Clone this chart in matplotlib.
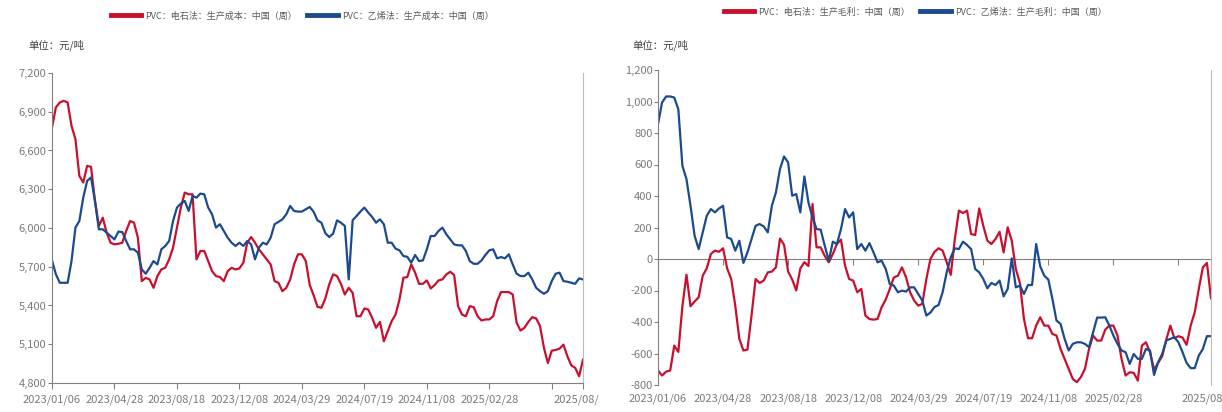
import matplotlib
matplotlib.use("Agg")
import matplotlib.pyplot as plt
import matplotlib.ticker as mticker
import matplotlib.transforms as mtransforms
import pandas as pd

# ── Dados (semanal, 2023/01/06 – 2025/08/08) ────────────────────────────────

datas = pd.date_range("2023-01-06", periods=137, freq="7D")

custo_carbureto = [
    6779, 6934, 6972, 6985, 6972, 6791, 6688, 6404, 6352, 6481,
    6473, 6210, 6016, 6080, 5964, 5886, 5873, 5878, 5886, 5977,
    6054, 6041, 5925, 5589, 5614, 5601, 5537, 5628, 5679, 5692,
    5757, 5848, 6003, 6158, 6274, 6261, 6261, 5757, 5822, 5822,
    5744, 5666, 5628, 5620, 5589, 5666, 5692, 5679, 5687, 5731,
    5886, 5930, 5886, 5835, 5796, 5757, 5718, 5589, 5576, 5511,
    5537, 5601, 5718, 5796, 5796, 5744, 5560, 5480, 5390, 5382,
    5454, 5563, 5641, 5628, 5568, 5485, 5537, 5498, 5317, 5317,
    5377, 5369, 5304, 5227, 5273, 5123, 5201, 5279, 5330, 5447,
    5615, 5620, 5718, 5654, 5568, 5568, 5594, 5532, 5558, 5594,
    5602, 5641, 5661, 5636, 5395, 5330, 5317, 5395, 5387, 5317,
    5284, 5292, 5292, 5317, 5434, 5504, 5504, 5504, 5485, 5266,
    5206, 5227, 5273, 5310, 5300, 5240, 5072, 4955, 5050, 5056,
    5066, 5097, 5007, 4937, 4917, 4852, 4981,
]

custo_etileno = [
    5749, 5641, 5576, 5576, 5576, 5744, 6003, 6054, 6235, 6365,
    6391, 6210, 5990, 5990, 5964, 5938, 5912, 5972, 5969, 5899,
    5835, 5835, 5809, 5679, 5646, 5692, 5744, 5718, 5835, 5861,
    5899, 6054, 6158, 6189, 6210, 6132, 6248, 6235, 6266, 6261,
    6158, 6106, 6003, 6029, 5977, 5925, 5886, 5861, 5886, 5861,
    5899, 5873, 5757, 5848, 5886, 5873, 5925, 6029, 6047, 6067,
    6106, 6171, 6132, 6127, 6127, 6145, 6163, 6126, 6059, 6041,
    5960, 5930, 5956, 6059, 6041, 6016, 5602, 6059, 6093, 6127,
    6158, 6119, 6085, 6041, 6067, 6029, 5886, 5886, 5840, 5827,
    5783, 5777, 5731, 5791, 5744, 5749, 5835, 5938, 5938, 5977,
    6003, 5951, 5912, 5873, 5866, 5866, 5822, 5744, 5723, 5723,
    5749, 5791, 5827, 5835, 5765, 5775, 5765, 5796, 5718, 5646,
    5628, 5628, 5654, 5602, 5537, 5511, 5491, 5511, 5589, 5646,
    5654, 5589, 5584, 5576, 5568, 5610, 5602,
]

margem_carbureto = [
    -708, -740, -715, -708, -550, -590, -300, -100, -300, -270,
    -243, -106, -59, 32, 53, 46, 68, -59, -127, -296,
    -507, -581, -575, -359, -127, -152, -137, -85, -80, -53,
    130, 90, -80, -130, -200, -60, -20, -45, 350, 74,
    74, 20, -21, 32, 95, 123, -42, -127, -137, -211,
    -190, -359, -381, -385, -381, -306, -258, -190, -118, -106,
    -53, -116, -211, -264, -296, -285, -127, 0, 45, 68,
    53, -21, -101, 127, 307, 292, 307, 159, 152, 321,
    211, 116, 95, 127, 173, 42, 201, 116, -63, -152,
    -381, -503, -503, -423, -370, -423, -423, -476, -486, -571,
    -634, -698, -761, -782, -750, -698, -571, -486, -518, -518,
    -448, -423, -423, -486, -634, -740, -719, -723, -772, -550,
    -529, -592, -702, -660, -617, -512, -423, -503, -490, -499,
    -545, -423, -338, -190, -53, -25, -249,
]

margem_etileno = [
    856, 994, 1032, 1032, 1025, 951, 592, 507, 338, 148,
    63, 169, 275, 317, 296, 321, 338, 137, 127, 53,
    116, -25, 42, 127, 211, 222, 207, 169, 338, 423,
    571, 651, 613, 402, 412, 296, 524, 359, 264, 190,
    186, 85, -11, 110, 95, 190, 317, 264, 296, 63,
    95, 53, 101, 42, -21, -11, -63, -159, -169, -211,
    -201, -207, -180, -180, -222, -264, -359, -340, -305, -292,
    -211, -85, 11, 68, 63, 110, 89, 63, -63, -85,
    -127, -186, -152, -165, -137, -237, -190, 4, -180, -169,
    -222, -165, -165, 95, -47, -106, -131, -254, -391, -412,
    -507, -581, -539, -529, -529, -539, -560, -465, -372, -372,
    -370, -423, -486, -539, -581, -592, -666, -603, -634, -634,
    -571, -581, -736, -655, -603, -518, -507, -497, -529, -592,
    -660, -693, -693, -613, -571, -490, -490,
]

legenda_custo = ["PVC：电石法：生产成本：中国（周）", "PVC：乙烯法：生产成本：中国（周）"]
legenda_margem = ["PVC：电石法：生产毛利：中国（周）", "PVC：乙烯法：生产毛利：中国（周）"]
unidade = "单位：元/吨"

# ── Estilo ──────────────────────────────────────────────────────────────────

VERMELHO = "#C8102E"
AZUL = "#1B4A8F"
CINZA = "#808080"
FONTES = ["Liberation Sans Narrow", "Noto Sans CJK SC", "DejaVu Sans"]
FONTES_CJK = ["Noto Sans CJK SC", "DejaVu Sans"]

plt.rcParams.update({
    "font.family": FONTES,
    "font.size": 8,
    "axes.edgecolor": CINZA,
    "xtick.color": CINZA,
    "ytick.color": CINZA,
    "xtick.labelcolor": "#7a7a7a",
    "ytick.labelcolor": "#7a7a7a",
})

W, H = 1222, 412
fig = plt.figure(figsize=(W / 100, H / 100), dpi=100)


def _rect(x0, y0, x1, y1):
    return [x0 / W, 1 - y1 / H, (x1 - x0) / W, (y1 - y0) / H]


x = list(range(len(datas)))
pos_ticks = list(range(0, 129, 16)) + [len(datas) - 1]
rotulos = [datas[i].strftime("%Y/%m/%d") if i != 128 else "" for i in pos_ticks]
fmt_milhar = mticker.FuncFormatter(lambda v, _: f"{v:,.0f}")


def _base(ax):
    ax.set_xlim(0, len(datas) - 1)
    ax.spines["top"].set_visible(False)
    ax.spines["right"].set_color("#bdbdbd")
    ax.spines["left"].set_color(CINZA)
    ax.tick_params(axis="y", direction="out", length=3, width=0.8, labelsize=8, pad=1)
    ax.yaxis.set_major_formatter(fmt_milhar)


def _legenda(handles, textos, centro_x, centro_y):
    leg = fig.legend(handles, textos, loc="center",
                     bbox_to_anchor=(centro_x / W, 1 - centro_y / H),
                     ncol=2, frameon=False, handlelength=3.4, columnspacing=1.2,
                     handletextpad=0.4, labelcolor="#595959",
                     prop={"family": FONTES_CJK, "size": 6.5})
    for h in leg.legend_handles:
        h.set_linewidth(3.5)
    return leg


# ── Painel esquerdo: custo ──────────────────────────────────────────────────

ax1 = fig.add_axes(_rect(52, 73, 583, 383))
l1, = ax1.plot(x, custo_carbureto, color=VERMELHO, lw=1.6)
l2, = ax1.plot(x, custo_etileno, color=AZUL, lw=1.6)
_base(ax1)
ax1.set_ylim(4800, 7200)
ax1.set_yticks(range(4800, 7201, 300))
ax1.spines["bottom"].set_color(CINZA)
ax1.set_xticks(pos_ticks)
ax1.set_xticklabels(rotulos)
ax1.tick_params(axis="x", direction="out", length=4, width=0.8, labelsize=8, pad=4)
ultimo = ax1.get_xticklabels()[-1]
ultimo.set_clip_on(True)
ultimo.set_clip_box(mtransforms.TransformedBbox(
    mtransforms.Bbox([[0, 0], [600, H]]), mtransforms.IdentityTransform()))

_legenda([l1, l2], legenda_custo, 302, 16)
fig.text(28 / W, 1 - 45 / H, unidade, ha="left", va="center", fontsize=7.5,
         color="#404040", family=FONTES_CJK)

# ── Painel direito: margem ──────────────────────────────────────────────────

ax2 = fig.add_axes(_rect(658, 70, 1211, 385))
r1, = ax2.plot(x, margem_carbureto, color=VERMELHO, lw=1.6)
r2, = ax2.plot(x, margem_etileno, color=AZUL, lw=1.6)
_base(ax2)
ax2.set_ylim(-800, 1200)
ax2.set_yticks(range(-800, 1201, 200))
ax2.spines["bottom"].set_visible(False)
ax2.set_xticks(pos_ticks)
ax2.set_xticklabels(rotulos)
ax2.tick_params(axis="x", length=0, labelsize=8, pad=6)

# eixo no zero com marcas, sem rótulos
eixo_zero = ax2.secondary_xaxis(800 / 2000)
eixo_zero.spines["bottom"].set_color(CINZA)
eixo_zero.set_xticks(pos_ticks)
eixo_zero.set_xticklabels([])
eixo_zero.tick_params(axis="x", direction="out", length=4, width=0.8)

_legenda([r1, r2], legenda_margem, 915, 12)
fig.text(632 / W, 1 - 45 / H, unidade, ha="left", va="center", fontsize=7.5,
         color="#404040", family=FONTES_CJK)

fig.savefig("out.png", dpi=100, facecolor="white")
